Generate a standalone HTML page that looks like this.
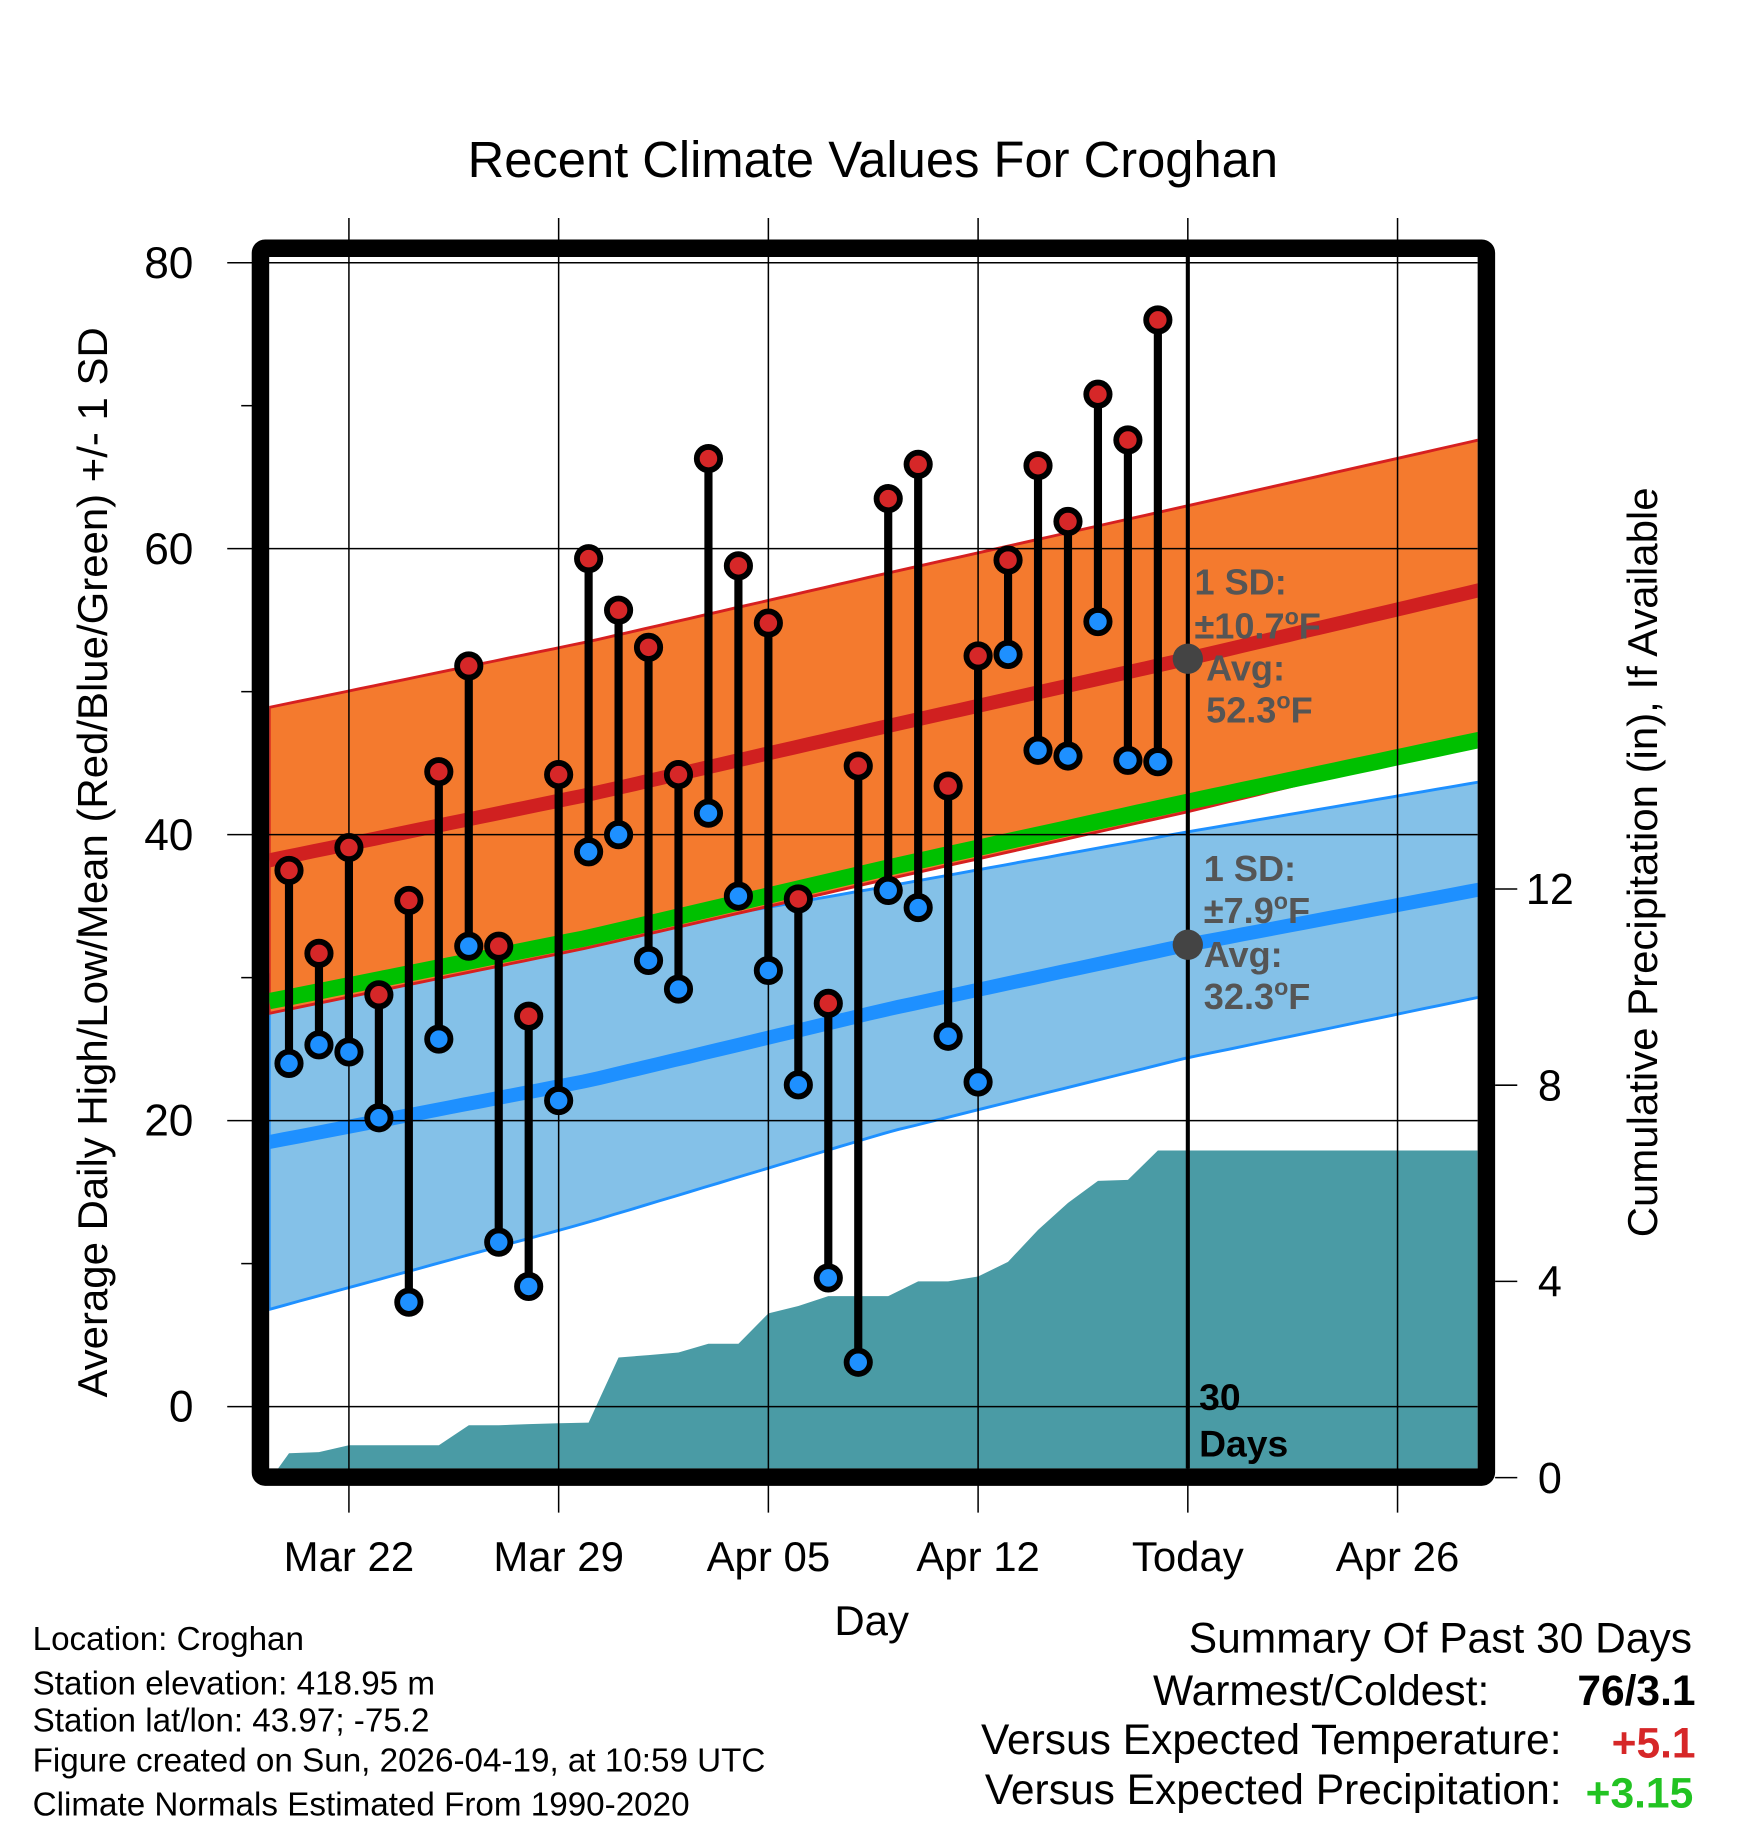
<!DOCTYPE html>
<html><head><meta charset="utf-8">
<style>html,body{margin:0;padding:0;background:#fff}svg{display:block}text{font-family:"Liberation Sans",Arial,sans-serif}</style>
</head><body>
<svg id="chart" width="1748" height="1828" viewBox="0 0 1500 1568.6" xmlns="http://www.w3.org/2000/svg">
<text x="749" y="152" font-size="43.5" text-anchor="middle">Recent Climate Values For Croghan</text>
<g id="layer"></g>
</svg>
<script>
// ---- data ----
const tempTicks = [0, 20, 40, 60, 80];
const minorTicks = [10, 30, 50, 70];
const precipTicks = [0, 4, 8, 12];
const dateLabels = ["Mar 22", "Mar 29", "Apr 05", "Apr 12", "Today", "Apr 26"];
const dateLabelDays = [2, 9, 16, 23, 30, 37];
const highs = [37.5,31.7,39.1,28.8,35.4,44.4,51.8,32.2,27.3,44.2,59.3,55.7,53.1,44.2,66.3,58.8,54.8,35.5,28.2,44.8,63.5,65.9,43.4,52.5,59.2,65.8,61.9,70.8,67.6,76.0];
const lows = [24.0,25.3,24.8,20.2,7.3,25.7,32.2,11.5,8.4,21.4,38.8,40.0,31.2,29.2,41.5,35.7,30.5,22.5,9.0,3.1,36.1,34.9,25.9,22.7,52.6,45.9,45.5,54.9,45.2,45.1];
const precip = [0.5,0.52,0.66,0.66,0.66,0.66,1.07,1.07,1.09,1.11,1.12,2.45,2.5,2.55,2.73,2.73,3.35,3.5,3.7,3.7,3.7,4.0,4.0,4.1,4.4,5.05,5.6,6.05,6.07,6.67];
const normDays = [-0.66, 10, 20, 30, 40.34];
const highMean = [38.2, 42.8, 47.6, 52.3, 57.4];
const highSD = [10.7, 10.7, 10.7, 10.7, 10.5];
const lowMean = [18.5, 22.8, 27.8, 32.3, 36.4];
const lowSD = [11.7, 9.9, 8.6, 7.9, 7.5];

// ---- scales ----
const X0 = 231, X1 = 1268, Y0 = 220, Y1 = 1260;
const x = d => 248 + d * 25.71;
const y = t => 1207 - t * 12.27;
const yp = p => 1268 - p * 42.1;
const NS = "http://www.w3.org/2000/svg";
const layer = document.getElementById('layer');
function mk(tag, attrs, parent) {
  const e = document.createElementNS(NS, tag);
  for (const k in attrs) e.setAttribute(k, attrs[k]);
  (parent || layer).appendChild(e);
  return e;
}
function interp(arr, d) {
  for (let i = 0; i < normDays.length - 1; i++) {
    if (d <= normDays[i + 1]) {
      const f = (d - normDays[i]) / (normDays[i + 1] - normDays[i]);
      return arr[i] + f * (arr[i + 1] - arr[i]);
    }
  }
  return arr[arr.length - 1];
}
const dStart = normDays[0], dEnd = normDays[normDays.length - 1];
function curve(fn) {
  const pts = [];
  for (let d = dStart; d <= dEnd + 0.001; d += 0.5) pts.push([x(Math.min(d, dEnd)), y(fn(Math.min(d, dEnd)))]);
  return pts;
}
const ps = pts => pts.map(p => p[0].toFixed(1) + ',' + p[1].toFixed(1)).join(' ');

const defs = mk('defs', {});
const cp = mk('clipPath', {id: 'plotclip'}, defs);
mk('rect', {x: X0, y: Y0, width: X1 - X0, height: Y1 - Y0}, cp);
const plot = mk('g', {'clip-path': 'url(#plotclip)'});

tempTicks.forEach(t => {
  const g = mk('line', {x1: 195, x2: X1, y1: y(t), y2: y(t), stroke: '#000', 'stroke-width': 1.3});
  
  
});
dateLabelDays.forEach((d, i) => {
  const g = mk('line', {x1: x(d), x2: x(d), y1: 187, y2: 1298, stroke: '#000', 'stroke-width': 1.3});
  
  
});
minorTicks.forEach(t => {
  const g = mk('line', {x1: 207, x2: 220, y1: y(t), y2: y(t), stroke: '#000', 'stroke-width': 1.3});
  
  
});

const lowUp = curve(d => interp(lowMean, d) + interp(lowSD, d));
const lowDn = curve(d => interp(lowMean, d) - interp(lowSD, d));
const bb = mk('polygon', {points: ps(lowUp.concat(lowDn.slice().reverse())), fill: '#84c1e8', stroke: '#1e90ff', 'stroke-width': 2.5}, plot);


const hiUp = curve(d => interp(highMean, d) + interp(highSD, d));
const hiDn = curve(d => interp(highMean, d) - interp(highSD, d));
const ob = mk('polygon', {points: ps(hiUp.concat(hiDn.slice().reverse())), fill: '#f47a2e', stroke: '#d62020', 'stroke-width': 2.5}, plot);


const gl = mk('polyline', {points: ps(curve(d => (interp(highMean, d) + interp(lowMean, d)) / 2)), fill: 'none', stroke: '#00c000', 'stroke-width': 14}, plot);


const bl = mk('polyline', {points: ps(curve(d => interp(lowMean, d))), fill: 'none', stroke: '#1e90ff', 'stroke-width': 12}, plot);


const rl = mk('polyline', {points: ps(curve(d => interp(highMean, d))), fill: 'none', stroke: '#d02020', 'stroke-width': 12}, plot);



let pp = [[X0, yp(0)], [X0 + 2, yp(0)]];
precip.forEach((p, i) => pp.push([x(i), yp(p)]));
pp.push([X1, yp(precip[precip.length - 1])], [X1, yp(0)]);
const pa = mk('polygon', {points: ps(pp), fill: '#4a9ba5'}, plot);



const tl = mk('line', {x1: x(30), x2: x(30), y1: Y0, y2: Y1, stroke: '#000', 'stroke-width': 3.5});



highs.forEach((h, i) => {
  const s = mk('line', {x1: x(i), x2: x(i), y1: y(h), y2: y(lows[i]), stroke: '#000', 'stroke-width': 7});
  
  
});
highs.forEach((h, i) => {
  const c = mk('circle', {cx: x(i), cy: y(h), r: 10, fill: '#d62728', stroke: '#000', 'stroke-width': 5});
  
  
  const c2 = mk('circle', {cx: x(i), cy: y(lows[i]), r: 10, fill: '#1e90ff', stroke: '#000', 'stroke-width': 5});
  
  
});

const d1 = mk('circle', {cx: x(30), cy: y(interp(highMean, 30)), r: 13, fill: '#444'});


const d2 = mk('circle', {cx: x(30), cy: y(interp(lowMean, 30)), r: 13, fill: '#444'});



const fr = mk('rect', {x: 223.5, y: 213, width: 1052, height: 1054.5, fill: 'none', stroke: '#000', 'stroke-width': 15, rx: 4});



tempTicks.forEach(t => {
  const e = mk('text', {x: 166, y: y(t) + 13, 'font-size': 38, 'text-anchor': 'end'});
  e.textContent = t;
  
  
});
precipTicks.forEach(p => {
  const l = mk('line', {x1: 1283, x2: 1302, y1: yp(p), y2: yp(p), stroke: '#000', 'stroke-width': 1.3});
  
  
  const e = mk('text', {x: 1330, y: yp(p) + 13, 'font-size': 37, 'text-anchor': 'middle'});
  e.textContent = p;
  
  
});
dateLabelDays.forEach((d, i) => {
  const e = mk('text', {x: x(d), y: 1348, 'font-size': 36, 'text-anchor': 'middle'});
  e.textContent = dateLabels[i];
  
  
});
</script>
<svg style="position:absolute;left:0;top:0" width="1748" height="1828" viewBox="0 0 1500 1568.6" xmlns="http://www.w3.org/2000/svg">
<g font-weight="bold" font-size="31" fill="#555">
<text x="1025" y="510">1 SD:</text>
<text x="1025" y="548">±10.7<tspan dy="-12" font-size="20">o</tspan><tspan dy="12">F</tspan></text>
<text x="1035" y="584">Avg:</text>
<text x="1035" y="620">52.3<tspan dy="-12" font-size="20">o</tspan><tspan dy="12">F</tspan></text>
<text x="1033" y="756">1 SD:</text>
<text x="1033" y="792">±7.9<tspan dy="-12" font-size="20">o</tspan><tspan dy="12">F</tspan></text>
<text x="1033" y="830">Avg:</text>
<text x="1033" y="866">32.3<tspan dy="-12" font-size="20">o</tspan><tspan dy="12">F</tspan></text>
</g>
<g font-weight="bold" font-size="32" fill="#000">
<text x="1029" y="1210">30</text>
<text x="1029" y="1250">Days</text>
</g>
<text transform="translate(92,740) rotate(-90)" font-size="36" text-anchor="middle">Average Daily High/Low/Mean (Red/Blue/Green) +/- 1 SD</text>
<text transform="translate(1422,740) rotate(-90)" font-size="36" text-anchor="middle">Cumulative Precipitation (in), If Available</text>
<text x="748" y="1403" font-size="36" text-anchor="middle">Day</text>
<g font-size="28.5">
<text x="28" y="1416">Location: Croghan</text>
<text x="28" y="1454">Station elevation: 418.95 m</text>
<text x="28" y="1486">Station lat/lon: 43.97; -75.2</text>
<text x="28" y="1520">Figure created on Sun, 2026-04-19, at 10:59 UTC</text>
<text x="28" y="1558">Climate Normals Estimated From 1990-2020</text>
</g>
<g font-size="36.5" text-anchor="end">
<text x="1452" y="1418">Summary Of Past 30 Days</text>
<text x="1278" y="1463">Warmest/Coldest:</text>
<text x="1455" y="1463" font-weight="bold">76/3.1</text>
<text x="1340" y="1505">Versus Expected Temperature:</text>
<text x="1455" y="1508" font-weight="bold" fill="#d62728">+5.1</text>
<text x="1340" y="1548">Versus Expected Precipitation:</text>
<text x="1453" y="1551" font-weight="bold" fill="#22c322">+3.15</text>
</g>
</svg>
</body></html>
